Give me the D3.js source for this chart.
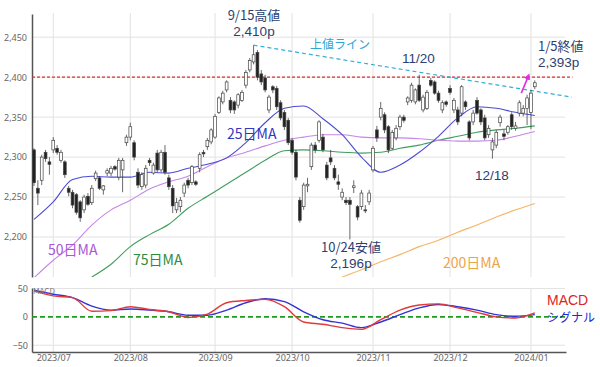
<!DOCTYPE html>
<html>
<head>
<meta charset="utf-8">
<script src="https://cdn.jsdelivr.net/npm/d3@7/dist/d3.min.js"></script>
<style>
body { margin: 0; background: #fff; }
svg { display: block; font-family: "Noto Sans CJK JP", "Noto Sans", sans-serif; }
</style>
</head>
<body>
<svg id="chart" width="600" height="367"></svg>
<script>
// Daily candles, 2023/06/26 .. 2024/01/05 (trading-day index 0..130)
var opens = [2309,2261,2271,2306,2294,2309,2311,2296,2294,2261,2256,2253,2244,2234,2251,2243,2273,2274,2259,2280,
    2280,2288,2275,2284,2318,2325,2318,2281,2263,2265,2296,2280,2305,2284,2306,2274,2261,2234,2238,2255,
    2271,2268,2269,2286,2306,2313,2319,2325,2356,2369,2384,2371,2369,2365,2371,2390,2409,2419,2431,2404,
    2399,2359,2388,2386,2368,2356,2346,2321,2306,2246,2238,2264,2288,2315,2321,2325,2290,2299,2286,2269,
    2250,2246,2246,2262,2238,2238,2234,2244,2284,2334,2350,2353,2338,2311,2324,2338,2350,2369,2371,2369,
    2390,2359,2361,2396,2394,2380,2359,2369,2386,2359,2359,2355,2369,2344,2344,2371,2359,2349,2328,2309,
    2315,2343,2329,2331,2353,2336,2355,2355,2361,2356,2388];
var highs = [2311,2271,2303,2309,2300,2325,2315,2309,2296,2264,2259,2255,2246,2253,2255,2265,2283,2276,2265,2286,
    2289,2290,2299,2299,2328,2343,2321,2286,2281,2290,2299,2293,2309,2309,2315,2278,2265,2249,2250,2268,
    2274,2290,2271,2306,2309,2324,2336,2354,2376,2383,2396,2375,2371,2380,2384,2409,2424,2440,2434,2409,
    2403,2378,2390,2389,2371,2359,2349,2324,2309,2250,2268,2274,2318,2319,2346,2329,2294,2309,2290,2278,
    2261,2250,2250,2271,2240,2259,2240,2259,2314,2339,2369,2356,2340,2334,2340,2353,2353,2376,2393,2386,
    2403,2378,2384,2399,2396,2383,2371,2371,2390,2374,2363,2390,2371,2346,2359,2375,2361,2353,2340,2324,
    2334,2353,2334,2340,2356,2344,2371,2365,2378,2384,2396];
var lows = [2264,2240,2265,2294,2278,2305,2303,2293,2274,2251,2236,2228,2219,2230,2239,2240,2270,2259,2253,2276,
    2276,2283,2271,2256,2314,2321,2296,2261,2259,2261,2289,2278,2281,2281,2278,2259,2230,2230,2231,2250,
    2261,2265,2264,2281,2300,2309,2316,2323,2354,2366,2381,2355,2354,2361,2369,2386,2406,2416,2396,2390,
    2381,2355,2380,2359,2346,2334,2315,2303,2271,2218,2234,2256,2284,2305,2318,2306,2271,2290,2271,2259,
    2246,2240,2197,2255,2221,2234,2230,2240,2281,2319,2346,2330,2305,2309,2321,2334,2343,2365,2368,2366,
    2369,2356,2359,2388,2378,2368,2355,2363,2378,2355,2340,2351,2359,2321,2340,2353,2340,2321,2324,2298,
    2311,2338,2321,2328,2334,2333,2351,2351,2340,2335,2385];
var closes = [2268,2255,2300,2298,2291,2321,2306,2306,2278,2256,2240,2231,2224,2250,2241,2261,2280,2261,2264,2283,
    2286,2285,2296,2296,2325,2338,2300,2265,2278,2286,2293,2290,2284,2306,2281,2263,2239,2243,2246,2265,
    2265,2288,2266,2303,2304,2321,2334,2351,2374,2380,2394,2359,2359,2378,2381,2406,2421,2428,2400,2394,
    2384,2375,2384,2363,2349,2338,2318,2306,2275,2221,2265,2266,2315,2309,2344,2309,2274,2294,2274,2266,
    2256,2243,2241,2264,2225,2255,2233,2255,2311,2324,2361,2334,2309,2331,2336,2350,2346,2374,2390,2384,
    2371,2375,2381,2390,2380,2371,2368,2366,2381,2371,2344,2388,2363,2324,2355,2355,2344,2324,2336,2319,
    2331,2350,2326,2338,2338,2339,2368,2361,2374,2380,2393];

// Moving averages and MACD read every 5 trading days
var sampleIdx = [0,5,10,15,20,25,30,35,40,45,50,55,60,65,70,75,80,85,90,95,100,105,110,115,120,125,130];
var ma25 = [2222,2244,2272,2276,2275,2275,2281,2280,2286,2291,2299,2318,2343,2361,2364,2348,2328,2300,2281,2290,
    2306,2326,2349,2363,2361,2356,2352];
var ma50 = [2149,2171,2190,2215,2234,2246,2260,2269,2276,2288,2299,2306,2314,2321,2325,2328,2328,2325,2324,2324,
    2323,2321,2320,2320,2321,2326,2332];
var ma75 = [null,null,null,2150,2166,2188,2203,2216,2236,2251,2266,2281,2296,2308,2309,2308,2306,2305,2306,2311,
    2315,2321,2326,2331,2334,2336,2339];
var ma200 = [null,null,null,null,null,null,null,null,null,null,null,null,null,null,null,null,2150,2159,2169,2178,
    2188,2196,2206,2215,2225,2234,2242];
var macd = [46,37,34,10,11,18,13,9,-1,5,25,29,31,18,-9,-13,-19,-22,-5,12,21,23,16,8,0,-2,7];
var signal = [47,40,34,19,12,14,12,9,3,3,12,25,32,27,9,-5,-11,-19,-9,4,16,22,18,12,4,1,4];

var monthIdx = [5,25,47,67,88,108,129];
var monthLabels = ['2023/07','2023/08','2023/09','2023/10','2023/11','2023/12','2024/01'];
var priceTicks = [2200,2250,2300,2350,2400,2450];
var macdTicks = [50,0,-50];

var svg = d3.select('#chart');

// Scales
var x = d3.scaleLinear().domain([-0.52, 138.1]).range([32, 566]);
var y = d3.scaleLinear().domain([2150, 2479]).range([277, 14]);
var ym = d3.scaleLinear().domain([-62, 51]).range([352, 288]);

var defs = svg.append('defs');
defs.append('clipPath').attr('id', 'plot')
    .append('rect').attr('x', 32).attr('y', 14).attr('width', 534).attr('height', 263);
defs.append('marker').attr('id', 'head')
    .attr('viewBox', '0 0 10 10').attr('refX', 5).attr('refY', 5)
    .attr('markerWidth', 4).attr('markerHeight', 4).attr('orient', 'auto')
    .append('path').attr('d', 'M0,0L10,5L0,10z').attr('fill', '#e22ee0');

// Grid
var grid = svg.append('g').attr('stroke', '#e2e2e2').attr('stroke-width', 1);
grid.selectAll('.h').data(priceTicks).enter().append('line')
    .attr('x1', 32).attr('x2', 565)
    .attr('y1', function(d) { return y(d); }).attr('y2', function(d) { return y(d); });
grid.selectAll('.hm').data([50, -50]).enter().append('line')
    .attr('x1', 32).attr('x2', 565)
    .attr('y1', function(d) { return ym(d); }).attr('y2', function(d) { return ym(d); });
grid.selectAll('.v').data(monthIdx).enter().append('line')
    .attr('x1', function(d) { return x(d); }).attr('x2', function(d) { return x(d); })
    .attr('y1', 13).attr('y2', 277);
grid.selectAll('.vm').data(monthIdx).enter().append('line')
    .attr('x1', function(d) { return x(d); }).attr('x2', function(d) { return x(d); })
    .attr('y1', 288).attr('y2', 352);

// Axes
function styleAxis(g) {
    g.select('.domain').attr('stroke', '#555').attr('stroke-width', 1.5);
    g.selectAll('text').attr('fill', '#666').style('font-size', '9px')
        .style('font-family', '"Noto Sans", sans-serif');
}
svg.append('g').attr('transform', 'translate(32,0)')
    .call(d3.axisLeft(y).tickValues(priceTicks).tickFormat(d3.format(',')).tickSize(0).tickPadding(5))
    .call(styleAxis);
svg.append('g').attr('transform', 'translate(32,0)')
    .call(d3.axisLeft(ym).tickValues(macdTicks).tickSize(0).tickPadding(4))
    .call(styleAxis);
svg.append('g').attr('transform', 'translate(0,352)')
    .call(d3.axisBottom(x).tickValues(monthIdx)
        .tickFormat(function(d, i) { return monthLabels[i]; }).tickSize(0).tickPadding(3))
    .call(styleAxis);

// Moving averages
var plot = svg.append('g').attr('clip-path', 'url(#plot)');
var maLine = d3.line()
    .defined(function(d) { return d !== null; })
    .x(function(d, i) { return x(sampleIdx[i]); })
    .y(function(d) { return y(d); })
    .curve(d3.curveMonotoneX);
[[ma200, '#f6b565'], [ma75, '#3f9e5c'], [ma50, '#c586e8'], [ma25, '#4b4bd2']].forEach(function(m) {
    plot.append('path').datum(m[0])
        .attr('fill', 'none').attr('stroke', m[1]).attr('stroke-width', 1.1)
        .attr('d', maLine);
});

// Resistance 2,400 and the upper trend line
svg.append('line')
    .attr('x1', x(-0.52)).attr('x2', x(139.8))
    .attr('y1', y(2400)).attr('y2', y(2400))
    .attr('stroke', '#d9302c').attr('stroke-width', 1.2).attr('stroke-dasharray', '3,2');
var upperLine = [[57, 2440], [139.6, 2375]];
svg.append('path').datum(upperLine)
    .attr('fill', 'none').attr('stroke', '#33aed6').attr('stroke-width', 1.2)
    .attr('stroke-dasharray', '4,3')
    .attr('d', d3.line().x(function(d) { return x(d[0]); }).y(function(d) { return y(d[1]); }));

// Candles
var data = opens.map(function(o, i) {
    return { i: i, o: o, h: highs[i], l: lows[i], c: closes[i] };
});
var candle = svg.append('g').selectAll('g').data(data).enter().append('g');
candle.append('line')
    .attr('x1', function(d) { return x(d.i); }).attr('x2', function(d) { return x(d.i); })
    .attr('y1', function(d) { return y(d.h); }).attr('y2', function(d) { return y(d.l); })
    .attr('stroke', '#444').attr('stroke-width', 0.8);
candle.append('rect')
    .attr('x', function(d) { return x(d.i) - 1.4; })
    .attr('width', 2.8)
    .attr('y', function(d) { return y(Math.max(d.o, d.c)); })
    .attr('height', function(d) { return Math.max(1, Math.abs(y(d.o) - y(d.c))); })
    .attr('fill', function(d) { return d.c < d.o ? '#222' : '#fff'; })
    .attr('stroke', '#444').attr('stroke-width', 0.7);

// Arrow to the last close
var arrowPts = [[126.5, 2380], [128.3, 2401]];
svg.append('path').datum(arrowPts)
    .attr('fill', 'none').attr('stroke', '#e22ee0').attr('stroke-width', 1.6)
    .attr('marker-end', 'url(#head)')
    .attr('d', d3.line().x(function(d) { return x(d[0]); }).y(function(d) { return y(d[1]); }));

// MACD panel
var macdLine = d3.line()
    .x(function(d, i) { return x(sampleIdx[i]); })
    .y(function(d) { return ym(d); })
    .curve(d3.curveMonotoneX);
svg.append('line')
    .attr('x1', 32).attr('x2', 565).attr('y1', ym(0)).attr('y2', ym(0))
    .attr('stroke', '#1f9a1f').attr('stroke-width', 1.6).attr('stroke-dasharray', '5,3');
svg.append('path').datum(signal)
    .attr('fill', 'none').attr('stroke', '#3333d6').attr('stroke-width', 1.4).attr('d', macdLine);
svg.append('path').datum(macd)
    .attr('fill', 'none').attr('stroke', '#e03a3a').attr('stroke-width', 1.4).attr('d', macdLine);

// Text labels
var latin = '"Liberation Sans", Arial, sans-serif';
function label(txt, px, py, color, size, anchor, family) {
    svg.append('text').text(txt)
        .attr('x', px).attr('y', py)
        .attr('fill', color)
        .attr('text-anchor', anchor || 'start')
        .style('font-size', size + 'px')
        .style('font-family', family || null);
}
var navy = '#2d3f72';
label('9/15高値', 254, 20, navy, 13, 'middle');
label('2,410p', 254, 36, navy, 13.5, 'middle', latin);
label('上値ライン', 310, 49, '#2ea7d6', 12);
label('11/20', 402, 63, navy, 13.5, 'start', latin);
label('1/5終値', 538, 51, navy, 13);
label('2,393p', 538, 67, navy, 13.5, 'start', latin);
label('12/18', 475, 180, navy, 13.5, 'start', latin);
label('10/24安値', 351, 252, navy, 13, 'middle');
label('2,196p', 351, 268, navy, 13.5, 'middle', latin);
label('25日MA', 227, 139, '#3535c0', 14);
label('50日MA', 48, 255, '#a658d8', 14);
label('75日MA', 133, 265, '#2e8b3e', 14);
label('200日MA', 443, 268, '#eda447', 14);
label('MACD', 547, 305, '#e02424', 14, 'start', latin);
label('シグナル', 547, 322, '#2424d4', 12);
label('MACD', 33, 294, '#777', 8);
</script>
</body>
</html>
